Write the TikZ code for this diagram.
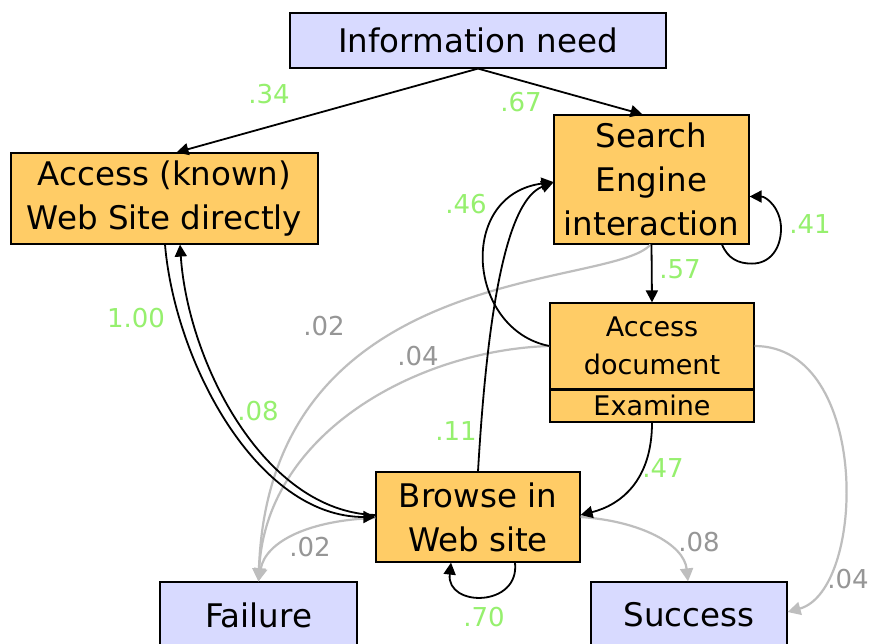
\documentclass[tikz,border=0pt]{standalone}
\usepackage{fontspec}
\setmainfont{DejaVu Sans}
\usetikzlibrary{arrows.meta}
\definecolor{nodeblue}{RGB}{216,218,255}
\definecolor{nodeorange}{RGB}{255,204,102}
\definecolor{probgreen}{RGB}{150,240,110}
\definecolor{lightline}{RGB}{190,190,190}
\definecolor{graytext}{RGB}{150,150,150}
\begin{document}
\begin{tikzpicture}[x=1pt,y=-1pt,
  box/.style={draw=black, line width=1.2pt, inner sep=0pt, align=center, font=\fontsize{32.5}{44}\selectfont},
  endbox/.style={box, fill=nodeblue},
  actbox/.style={box, fill=nodeorange},
  smallbox/.style={actbox, font=\fontsize{27}{38}\selectfont},
  blackedge/.style={line width=1.8pt, -{Triangle[length=12pt,width=12pt]}},
  grayedge/.style={draw=lightline, line width=2.2pt, -{Triangle[length=13pt,width=13pt]}},
  prob/.style={text=probgreen, font=\fontsize{26}{30}\selectfont, inner sep=0pt},
  gprob/.style={prob, text=graytext}
]
\useasboundingbox (0,0) rectangle (869,643);
\clip (0,0) rectangle (869,643);
\fill[white] (0,0) rectangle (869,643);

% nodes
\node[endbox, minimum width=376pt, minimum height=55pt] (info) at (478,40.5) {Information need};
\node[actbox, minimum width=307pt, minimum height=91pt] (acc) at (164.5,198.5) {Access (known)\\Web Site directly};
\node[actbox, minimum width=195pt, minimum height=129pt] (se) at (651.5,179.5) {Search\\Engine\\interaction};
\node[smallbox, minimum width=204pt, minimum height=86pt] (doc) at (652,346) {Access\\document};
\node[smallbox, minimum width=204pt, minimum height=33pt] (exam) at (652,405.5) {Examine};
\draw[line width=3pt] (doc.south west) -- (doc.south east);
\node[actbox, minimum width=204pt, minimum height=90pt] (brw) at (478,517) {Browse in\\Web site};
\node[endbox, minimum width=197pt, minimum height=66pt] (fail) at (258.5,615) {Failure};
\node[endbox, minimum width=196pt, minimum height=66pt] (succ) at (689,615) {Success};

% gray connectors
\draw[grayedge] ([xshift=-1pt]se.south) .. controls +(-40,45) and +(11.5,-322) .. (fail.north);
\draw[grayedge] (doc.west) .. controls +(-130,4) and +(8,-150) .. (fail.north);
\draw[grayedge] ([yshift=-1pt]brw.west) .. controls +(-66,2) and +(7,-40) .. (fail.north);
\draw[grayedge] (brw.east) .. controls +(60,4) and +(-4,-37) .. ([xshift=-1pt]succ.north);
\draw[grayedge] (doc.east) .. controls +(116,0) and +(79,-22) .. ([yshift=3pt]succ.east);

% black connectors
\draw[blackedge] (info.south) -- ([xshift=12pt]acc.north);
\draw[blackedge] (info.south) -- ([xshift=-9pt]se.north);
\draw[blackedge] ([xshift=0.5pt]acc.south) .. controls +(10,118) and +(-118,0) .. (brw.west);
\draw[blackedge] ([yshift=2pt]brw.west) .. controls +(-111,-3) and +(8,118) .. ([xshift=15.5pt]acc.south);
\draw[blackedge] ([xshift=70.5pt]se.south) .. controls +(6,14) and +(-14,0) .. ++(30,19)
  .. controls +(18,0) and +(0,20) .. ++(29,-35)
  .. controls +(0,-20) and +(17,0) .. ([yshift=-17pt]se.east);
\draw[blackedge] (se.south) -- (doc.north);
\draw[blackedge] (doc.west) .. controls +(-82,-16) and +(-97,13) .. ([yshift=-2.5pt]se.west);
\draw[blackedge] (brw.north) .. controls +(10,-172) and +(-45,17) .. ([yshift=-3pt]se.west);
\draw[blackedge] (exam.south) .. controls +(0,58) and +(40,-10) .. ([yshift=2pt]brw.east);
\draw[blackedge] ([xshift=37pt]brw.south) .. controls +(5,45) and +(-5,45) .. ([xshift=-27pt]brw.south);

% labels
\node[prob] (l34) at (269,94) {.34};
\node[prob] (l67) at (521,102) {.67};
\node[prob] (l46) at (466,204) {.46};
\node[prob] (l41) at (810,224) {.41};
\node[prob] (l57) at (680,269) {.57};
\node[prob] (l100) at (136,318) {1.00};
\node[prob] (l08) at (258,411) {.08};
\node[prob] (l11) at (456,431) {.11};
\node[prob] (l47) at (663,468) {.47};
\node[prob] (l70) at (484,617) {.70};
\node[gprob] (g02a) at (324,326) {.02};
\node[gprob] (g04a) at (418,356) {.04};
\node[gprob] (g02b) at (310,547) {.02};
\node[gprob] (g08) at (699,542) {.08};
\node[gprob] (g04b) at (848,579) {.04};
\end{tikzpicture}
\end{document}
